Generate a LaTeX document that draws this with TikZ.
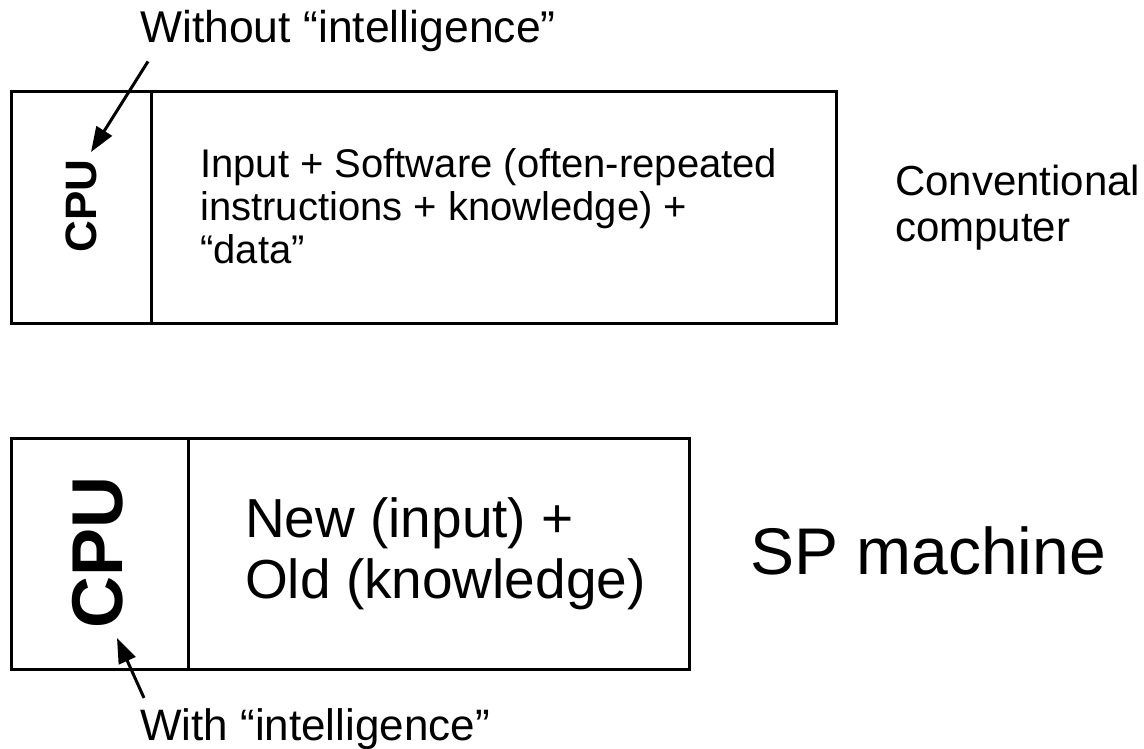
\documentclass[tikz,border=0pt]{standalone}
\usepackage{fontspec}
\setmainfont{Liberation Sans}
\usetikzlibrary{arrows.meta,calc}
\tikzset{
  cell/.style={draw, line width=3pt, anchor=north west, inner sep=0pt},
  lbl/.style={inner sep=0pt, anchor=base west},
  arr/.style={line width=3pt, -{Triangle[length=25pt,width=18pt]}},
}
\newcommand{\fs}[2]{\fontsize{#1}{#2}\selectfont}
\begin{document}
\begin{tikzpicture}[x=1pt,y=-1pt]
\useasboundingbox (0,0) rectangle (1144,748);
% top machine
\node[cell, minimum width=140pt, minimum height=232pt] (cpuA) at (10,90) {};
\node[cell, minimum width=685pt, minimum height=232pt] (memA) at (150,90) {};
\node[inner sep=0pt, rotate=90, font=\fs{44}{48}\bfseries] (cpuAt) at (81,206) {CPU};
\node[lbl, align=left, font=\fs{40}{43}] (memAt) at (200,263) {Input + Software (often-repeated\\instructions + knowledge) +\\“data”};
\node[lbl, align=left, font=\fs{42}{46}] (conv) at (895,241) {Conventional\\computer};
\node[lbl, font=\fs{44.5}{48}] (wo) at (140,42) {Without “intelligence”};
\coordinate (tipA) at (91,152);
\draw[arr] ($(wo.south west)+(8,10)$) -- (tipA);
% bottom machine
\node[cell, minimum width=177pt, minimum height=231pt] (cpuB) at (10,437) {};
\node[cell, minimum width=501pt, minimum height=231pt] (memB) at (187,437) {};
\node[inner sep=0pt, rotate=90, font=\fs{72}{76}\bfseries] (cpuBt) at (98,552) {CPU};
\node[lbl, align=left, font=\fs{55}{61}] (memBt) at (245,598) {New (input) +\\Old (knowledge)};
\node[lbl, font=\fs{66}{70}] (sp) at (750,574) {SP machine};
\node[lbl, font=\fs{44}{48}] (wi) at (140,740) {With “intelligence”};
\coordinate (tipB) at (117,638);
\draw[arr] ($(wi.north west)+(4,-10)$) -- (tipB);
\end{tikzpicture}
\end{document}
